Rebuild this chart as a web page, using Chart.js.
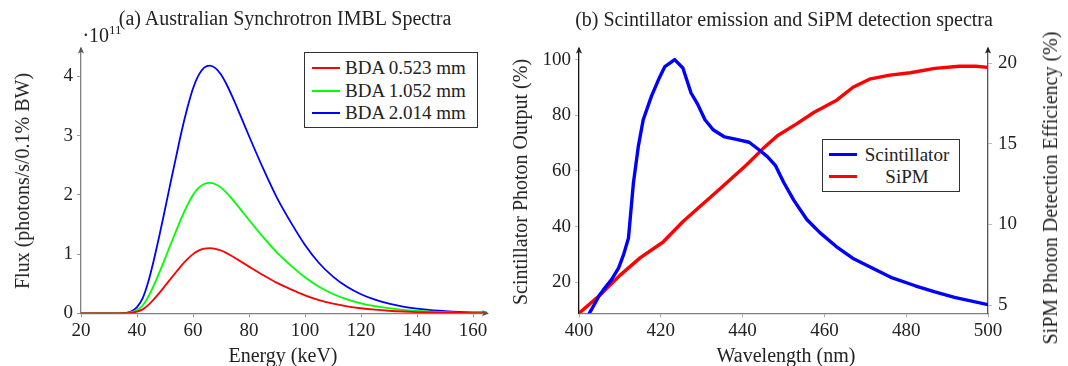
<!DOCTYPE html>
<html lang="en">
<head>
  <meta charset="UTF-8" />
  <title>IMBL spectra and scintillator / SiPM spectra</title>
  <script src="https://cdn.jsdelivr.net/npm/chart.js"></script>
  <style>
    html, body {
      margin: 0;
      padding: 0;
      background: #fff;
    }

    body {
      width: 1068px;
      height: 366px;
      position: relative;
      overflow: hidden;
      font-family: 'Liberation Serif', 'DejaVu Serif', serif;
      color: #222;
    }

    .panel {
      position: absolute;
      top: 0;
      height: 366px;
    }

    .panel canvas {
      display: block;
    }

    .lbl {
      position: absolute;
      white-space: nowrap;
      transform: translate(-50%, -50%);
      font-size: 20px;
      line-height: 1;
    }

    .rot {
      transform: translate(-50%, -50%) rotate(-90deg);
    }

    .legend {
      position: absolute;
      background: #fff;
      border: 1.3px solid #333;
      box-sizing: border-box;
      font-size: 19px;
    }

    .legend .row {
      position: absolute;
      left: 0;
      right: 0;
      height: 22px;
      line-height: 22px;
    }

    .legend .swatch {
      position: absolute;
      top: 10px;
    }

    .legend .txt {
      position: absolute;
      white-space: nowrap;
    }
  </style>
</head>
<body>

  <div class="panel" style="left:0; width:534px;"><canvas id="fluxChart" width="534" height="366"></canvas></div>
  <div class="panel" style="left:500px; width:568px;"><canvas id="spectraChart" width="568" height="366"></canvas></div>

  <!-- panel (a) texts -->
  <div class="lbl" style="left:285px; top:18px;">(a) Australian Synchrotron IMBL Spectra</div>
  <div class="lbl" style="left:102px; top:34px;">·10<sup style="font-size:13px;">11</sup></div>
  <div class="lbl rot" style="left:22px; top:181px;">Flux (photons/s/0.1% BW)</div>
  <div class="lbl" style="left:283px; top:355px;">Energy (keV)</div>

  <div class="legend" style="left:304px; top:52px; width:174px; height:76px;">
    <div class="row" style="top:4px;"><div class="swatch" style="left:7px; width:28px; border-top:2px solid #ff0000;"></div><div class="txt" style="left:40px;">BDA 0.523 mm</div></div>
    <div class="row" style="top:27px;"><div class="swatch" style="left:7px; width:28px; border-top:2px solid #00ff00;"></div><div class="txt" style="left:40px;">BDA 1.052 mm</div></div>
    <div class="row" style="top:49px;"><div class="swatch" style="left:7px; width:28px; border-top:2px solid #0000ff;"></div><div class="txt" style="left:40px;">BDA 2.014 mm</div></div>
  </div>

  <!-- panel (b) texts -->
  <div class="lbl" style="left:784px; top:19px;">(b) Scintillator emission and SiPM detection spectra</div>
  <div class="lbl rot" style="left:520px; top:182px;">Scintillator Photon Output (%)</div>
  <div class="lbl rot" style="left:1050px; top:188px;">SiPM Photon Detection Efficiency (%)</div>
  <div class="lbl" style="left:786px; top:355px;">Wavelength (nm)</div>

  <div class="legend" style="left:822px; top:139px; width:138px; height:53px;">
    <div class="row" style="top:4px;"><div class="swatch" style="left:6px; width:28px; border-top:3px solid #0000ff; top:9px;"></div><div class="txt" style="left:84px; transform:translateX(-50%);">Scintillator</div></div>
    <div class="row" style="top:26px;"><div class="swatch" style="left:6px; width:28px; border-top:3px solid #ff0000; top:9px;"></div><div class="txt" style="left:84px; transform:translateX(-50%);">SiPM</div></div>
  </div>

  <script>
    // ---- panel (a): flux in units of 1e11 photons/s/0.1% BW ----
    const energy = [20, 25, 30, 34, 35, 36, 38, 40, 42, 44, 46, 48, 50, 52, 54, 56, 58, 60, 62, 64, 66, 68, 70, 72, 74, 76, 78, 80,
                    85, 90, 95, 100, 105, 110, 115, 120, 125, 130, 135, 140, 145, 150, 155, 160, 165];
    const flux0523 = [0, 0, 0, 0, 0.001, 0.002, 0.009, 0.028, 0.066, 0.139, 0.235, 0.345, 0.462, 0.581, 0.697, 0.812, 0.913, 0.999, 1.058, 1.091, 1.10, 1.089, 1.060, 1.016, 0.964, 0.906, 0.847, 0.788,
                      0.645, 0.513, 0.403, 0.304, 0.223, 0.163, 0.118, 0.085, 0.061, 0.043, 0.030, 0.021, 0.014, 0.010, 0.007, 0.004, 0.003];
    const flux1052 = [0, 0, 0, 0, 0.001, 0.003, 0.018, 0.055, 0.132, 0.277, 0.471, 0.691, 0.924, 1.162, 1.395, 1.624, 1.826, 1.998, 2.116, 2.182, 2.20, 2.178, 2.121, 2.033, 1.927, 1.813, 1.694, 1.575,
                      1.289, 1.025, 0.805, 0.607, 0.447, 0.326, 0.235, 0.169, 0.121, 0.086, 0.059, 0.042, 0.029, 0.020, 0.013, 0.009, 0.007];
    const flux2014 = [0, 0, 0, 0, 0.002, 0.006, 0.033, 0.105, 0.251, 0.527, 0.895, 1.313, 1.756, 2.207, 2.650, 3.085, 3.469, 3.795, 4.021, 4.147, 4.18, 4.138, 4.030, 3.862, 3.662, 3.444, 3.219, 2.993,
                      2.449, 1.948, 1.530, 1.154, 0.849, 0.619, 0.447, 0.322, 0.230, 0.163, 0.113, 0.079, 0.054, 0.038, 0.025, 0.017, 0.013];
    const energyTicks = [20, 40, 60, 80, 100, 120, 140, 160];
    const fluxTicks = [0, 1, 2, 3, 4];

    // ---- panel (b) ----
    const scintWl  = [401, 403, 405, 406, 408, 409.7, 410.9, 412.1, 413.3, 414.5, 415.7, 417.7, 419.5, 421, 423.4, 425.4, 427.4, 429, 430.8, 432.8, 435.6, 438.5, 441.6, 444, 446, 448,
                      450, 452.5, 455.7, 458.9, 462.9, 466.9, 471.8, 476.6, 482.2, 487, 491.8, 500];
    const scintOut = [5, 10, 15.3, 17.3, 21, 25.1, 29.9, 35.9, 55.6, 68.8, 78.4, 86.8, 93, 97.5, 100, 97, 88, 84, 78.4, 74.8, 72.2, 71.3, 70.3, 67.6, 65.2, 62,
                      56, 49.5, 42.5, 37.8, 32.8, 28.6, 25, 21.5, 18.7, 16.5, 14.5, 11.9];
    const sipmWl  = [400, 405, 410, 415, 420.5, 425.5, 429.5, 434, 441, 445, 448.5, 453, 457.5, 463, 467, 471, 476, 481, 487, 493, 497, 500];
    const sipmPde = [4.5, 5.6, 6.85, 7.95, 8.9, 10.2, 11.1, 12.1, 13.7, 14.7, 15.5, 16.2, 16.95, 17.7, 18.5, 19.0, 19.25, 19.4, 19.67, 19.8, 19.8, 19.73];
    const wlTicks = [400, 420, 440, 460, 480, 500];
    const outTicks = [20, 40, 60, 80, 100];
    const pdeTicks = [5, 10, 15, 20];

    const tickFont = { family: "'Liberation Serif', serif", size: 19 };
    const pts = (xs, ys) => xs.map((x, i) => ({ x: x, y: ys[i] }));
    const fixTicks = (list) => (scale) => { scale.ticks = list.map(v => ({ value: v })); };

    // small arrow heads at the axis ends, pgfplots style
    const axisArrows = {
      id: 'axisArrows',
      afterDraw(chart, args, opts) {
        const ctx = chart.ctx, a = chart.chartArea;
        const head = (x, y, dir, color) => {
          ctx.save();
          ctx.fillStyle = color;
          ctx.translate(x, y);
          ctx.rotate(dir);
          ctx.beginPath();
          ctx.moveTo(0, 0);
          ctx.lineTo(-7, -3);
          ctx.lineTo(-5.5, 0);
          ctx.lineTo(-7, 3);
          ctx.closePath();
          ctx.fill();
          ctx.restore();
        };
        (opts.up || []).forEach(u => head(u === 'right' ? a.right : a.left, a.top - 2, -Math.PI / 2, opts.color));
        if (opts.xArrow) head(a.right + 2, a.bottom, 0, opts.color);
      }
    };

    new Chart(document.getElementById('fluxChart'), {
      type: 'line',
      data: {
        datasets: [
          { label: 'BDA 0.523 mm', data: pts(energy, flux0523), borderColor: '#ff0000' },
          { label: 'BDA 1.052 mm', data: pts(energy, flux1052), borderColor: '#00ff00' },
          { label: 'BDA 2.014 mm', data: pts(energy, flux2014), borderColor: '#0000ff' }
        ]
      },
      options: {
        responsive: false,
        animation: false,
        devicePixelRatio: 1,
        layout: { padding: { top: 48.5, right: 47, left: 0, bottom: 0 } },
        elements: {
          point: { radius: 0 },
          line: { borderWidth: 1.8, cubicInterpolationMode: 'monotone', fill: false }
        },
        plugins: {
          legend: { display: false },
          tooltip: { enabled: false },
          axisArrows: { up: ['left'], xArrow: true, color: '#555' }
        },
        scales: {
          x: {
            type: 'linear', min: 20, max: 165,
            afterBuildTicks: fixTicks(energyTicks),
            afterFit: (s) => { s.height = 52.7; },
            ticks: { font: tickFont, color: '#222', padding: 2, maxRotation: 0 },
            grid: { drawOnChartArea: false, tickLength: 4, color: '#999' },
            border: { color: '#808080', width: 1.3 }
          },
          y: {
            min: 0, max: 4.47,
            afterBuildTicks: fixTicks(fluxTicks),
            afterFit: (s) => { s.width = 81; },
            ticks: { font: tickFont, color: '#222', padding: 4 },
            grid: { drawOnChartArea: false, tickLength: 4, color: '#999' },
            border: { color: '#808080', width: 1.3 }
          }
        }
      },
      plugins: [axisArrows]
    });

    new Chart(document.getElementById('spectraChart'), {
      type: 'line',
      data: {
        datasets: [
          { label: 'Scintillator', data: pts(scintWl, scintOut), borderColor: '#0000ff', yAxisID: 'y', clip: 0 },
          { label: 'SiPM', data: pts(sipmWl, sipmPde), borderColor: '#ff0000', yAxisID: 'y1', clip: 0 }
        ]
      },
      options: {
        responsive: false,
        animation: false,
        devicePixelRatio: 1,
        layout: { padding: { top: 48.5, right: 0, left: 0, bottom: 0 } },
        elements: {
          point: { radius: 0 },
          line: { borderWidth: 3.4, tension: 0, fill: false, borderJoinStyle: 'round' }
        },
        plugins: {
          legend: { display: false },
          tooltip: { enabled: false },
          axisArrows: { up: ['left', 'right'], xArrow: false, color: '#222' }
        },
        scales: {
          x: {
            type: 'linear', min: 400, max: 500,
            afterBuildTicks: fixTicks(wlTicks),
            afterFit: (s) => { s.height = 52.7; },
            ticks: { font: tickFont, color: '#222', padding: 2, maxRotation: 0 },
            grid: { drawOnChartArea: false, tickLength: 4, color: '#aaa' },
            border: { color: '#808080', width: 1.3 }
          },
          y: {
            position: 'left', min: 8.8, max: 104,
            afterBuildTicks: fixTicks(outTicks),
            afterFit: (s) => { s.width = 79; },
            ticks: { font: tickFont, color: '#222', padding: 4 },
            grid: { drawOnChartArea: false, tickLength: 4, color: '#bbb' },
            border: { color: '#111', width: 1.3 }
          },
          y1: {
            position: 'right', min: 4.5, max: 20.9,
            afterBuildTicks: fixTicks(pdeTicks),
            afterFit: (s) => { s.width = 80; },
            ticks: { font: tickFont, color: '#222', padding: 6 },
            grid: { drawOnChartArea: false, tickLength: 4, color: '#bbb' },
            border: { color: '#555', width: 1.3 }
          }
        }
      },
      plugins: [axisArrows]
    });
  </script>

</body>
</html>
